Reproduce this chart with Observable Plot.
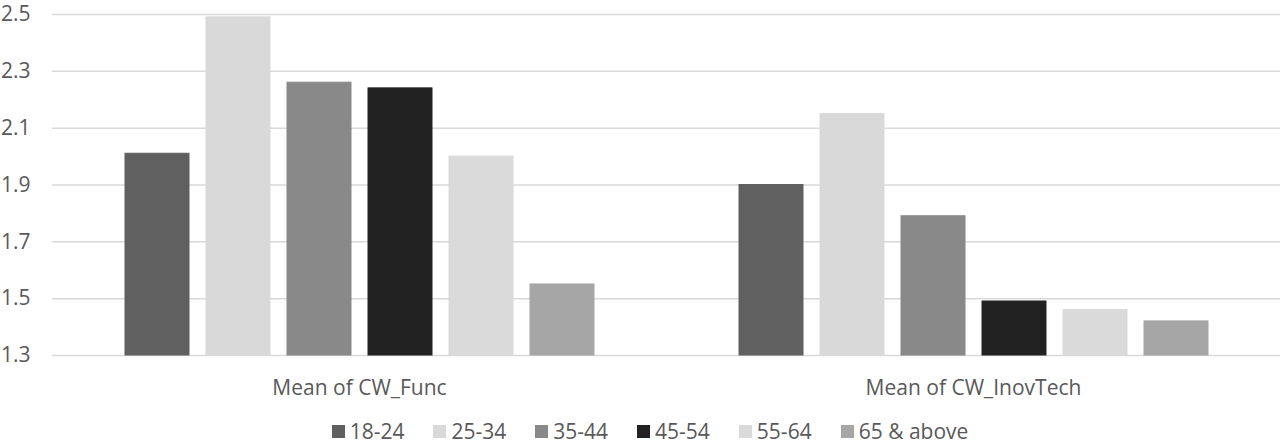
<!DOCTYPE html>
<html>
<head>
<meta charset="utf-8">
<script src="https://cdn.jsdelivr.net/npm/d3@7"></script>
<script src="https://cdn.jsdelivr.net/npm/@observablehq/plot@0.6"></script>
<style>
  html, body { margin: 0; padding: 0; background: #fff; }
  body { width: 1280px; height: 444px; overflow: hidden; font-family: "Open Sans", sans-serif; }
  #legend { display: flex; justify-content: center; align-items: center; height: 24px; margin-top: 7px; font-size: 21px; line-height: 24px; color: #595959; padding-left: 20px; }
  #legend .item { display: flex; align-items: center; margin-right: 29px; }
  #legend .item:last-child { margin-right: 0; }
  #legend .sw { width: 13px; height: 13px; margin-right: 5px; }
</style>
</head>
<body>
<div id="chart"></div>
<div id="legend"></div>
<script>
const groups = ["Mean of CW_Func", "Mean of CW_InovTech"];
const ages = ["18-24", "25-34", "35-44", "45-54", "55-64", "65 & above"];
const funcValues = [2.01, 2.49, 2.26, 2.24, 2.00, 1.55];
const inovValues = [1.90, 2.15, 1.79, 1.49, 1.46, 1.42];
const colors = ["#5f605f", "#d9d9d9", "#898989", "#222222", "#dadada", "#a6a6a6"];
const yTicks = [1.3, 1.5, 1.7, 1.9, 2.1, 2.3, 2.5];

const data = [];
ages.forEach((a, i) => data.push({group: groups[0], age: a, value: funcValues[i]}));
ages.forEach((a, i) => data.push({group: groups[1], age: a, value: inovValues[i]}));

const yMin = yTicks[0];
const yMax = yTicks[yTicks.length - 1];

const chart = Plot.plot({
  width: 1280,
  height: 412,
  marginLeft: 52,
  marginRight: 0,
  marginTop: 14,
  marginBottom: 57,
  style: {fontFamily: "Open Sans, sans-serif", fontSize: "21px", color: "#595959", background: "#fff", overflow: "visible"},
  fx: {domain: groups, padding: 0, axis: "bottom", tickSize: 0, tickPadding: 25, label: null},
  x: {domain: ages, paddingInner: 0.215, paddingOuter: 0.874, axis: null},
  y: {domain: [yMin, yMax], ticks: yTicks, tickFormat: d3.format(".1f"), tickSize: 0, tickPadding: 22, label: null},
  color: {domain: ages, range: colors},
  marks: [
    Plot.ruleY(yTicks, {stroke: "#d9d9d9", strokeWidth: 1.5, facet: "exclude"}),
    Plot.barY(data, {fx: "group", x: "age", y1: yMin, y2: "value", fill: "age", stroke: "age", strokeWidth: 1})
  ]
});
document.getElementById("chart").appendChild(chart);

const legend = document.getElementById("legend");
ages.forEach((a, i) => {
  const item = document.createElement("div");
  item.className = "item";
  const sw = document.createElement("span");
  sw.className = "sw";
  sw.style.background = colors[i];
  const lab = document.createElement("span");
  lab.textContent = a;
  item.appendChild(sw);
  item.appendChild(lab);
  legend.appendChild(item);
});
</script>
</body>
</html>
